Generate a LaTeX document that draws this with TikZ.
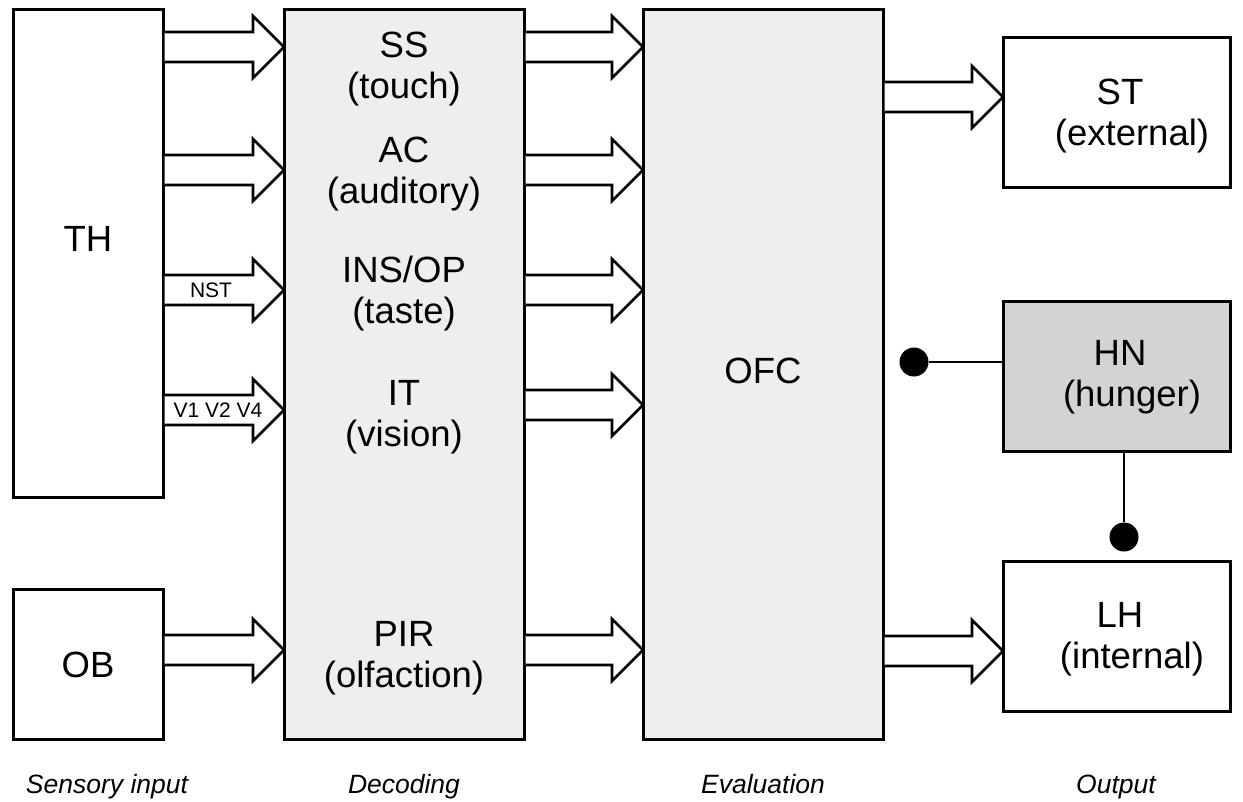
\documentclass[tikz,border=0pt]{standalone}
\usepackage{fontspec}
\setmainfont{Liberation Sans}
\usetikzlibrary{calc}
\definecolor{decfill}{HTML}{EEEEEE}
\definecolor{hnfill}{HTML}{D3D3D3}
\tikzset{
  box/.style={draw=black, line width=3pt, fill=white, inner sep=0pt, outer sep=0pt},
  txt/.style={font=\fontsize{36.5}{41}\selectfont, align=center, anchor=base, inner sep=0pt},
  small/.style={font=\fontsize{21}{23}\selectfont, anchor=base, inner sep=0pt},
  caption/.style={font=\fontsize{26.5}{30}\selectfont\itshape, anchor=base, inner sep=0pt},
  blockarrow/.style={draw=black, line width=2.8pt, fill=white, line join=miter},
  link/.style={draw=black, line width=2.2pt},
  knob/.style={circle, fill=black, minimum size=29pt, inner sep=0pt}
}
\newcommand{\barrow}[3]{%
  \path (#1.east |- 0,#3) coordinate (s) (#2.west |- 0,#3) coordinate (t);
  \draw[blockarrow] ($(s)+(1.6,-15)$) -- ($(t)+(-31,-15)$) -- ($(t)+(-31,-31)$) -- (t)
    -- ($(t)+(-31,31)$) -- ($(t)+(-31,15)$) -- ($(s)+(1.6,15)$);
}
\begin{document}
\begin{tikzpicture}[x=1pt, y=-1pt]
\useasboundingbox (0,0) rectangle (1243,801);
% boxes
\node[box, minimum width=150, minimum height=488] (TH) at (88,253) {};
\node[box, minimum width=150, minimum height=150] (OB) at (88,664) {};
\node[box, fill=decfill, minimum width=240, minimum height=730] (DEC) at (404,374) {};
\node[box, fill=decfill, minimum width=240, minimum height=730] (OFC) at (763,374) {};
\node[box, minimum width=227, minimum height=150] (ST) at (1116.5,112) {};
\node[box, fill=hnfill, minimum width=227, minimum height=150] (HN) at (1116.5,376) {};
\node[box, minimum width=227, minimum height=150] (LH) at (1116.5,636) {};
% block arrows
\barrow{TH}{DEC}{47}
\barrow{TH}{DEC}{170}
\barrow{TH}{DEC}{290}
\barrow{TH}{DEC}{410}
\barrow{OB}{DEC}{650}
\barrow{DEC}{OFC}{47}
\barrow{DEC}{OFC}{170}
\barrow{DEC}{OFC}{290}
\barrow{DEC}{OFC}{405}
\barrow{DEC}{OFC}{650}
\barrow{OFC}{ST}{97}
\barrow{OFC}{LH}{651}
% small labels
\node[small] (nst) at (211,297) {NST};
\node[small] (vis) at (218,417) {V1 V2 V4};
% texts
\node[txt] (tTH) at (88,251) {TH};
\node[txt] (tOB) at (88,677) {OB};
\node[txt] (tSS) at (404,98) {SS\\(touch)};
\node[txt] (tAC) at (404,203) {AC\\(auditory)};
\node[txt] (tINS) at (404,323) {INS/OP\\(taste)};
\node[txt] (tIT) at (404,446) {IT\\(vision)};
\node[txt] (tPIR) at (404,687) {PIR\\(olfaction)};
\node[txt] (tOFC) at (763,383) {OFC};
\node[txt] (tST) at (1120,145) {ST\\\hspace*{24pt}(external)};
\node[txt] (tHN) at (1120,406) {HN\\\hspace*{24pt}(hunger)};
\node[txt] (tLH) at (1120,668) {LH\\\hspace*{24pt}(internal)};
% captions
\node[caption] (c1) at (107,793) {Sensory input};
\node[caption] (c2) at (404,793) {Decoding};
\node[caption] (c3) at (763,793) {Evaluation};
\node[caption] (c4) at (1116,793) {Output};
% hunger links
\node[knob] (k1) at (914,362) {};
\node[knob] (k2) at (1124,537) {};
\draw[link] (HN.west |- k1) -- (k1);
\draw[link] (HN.south -| k2) -- (k2);
\end{tikzpicture}
\end{document}
